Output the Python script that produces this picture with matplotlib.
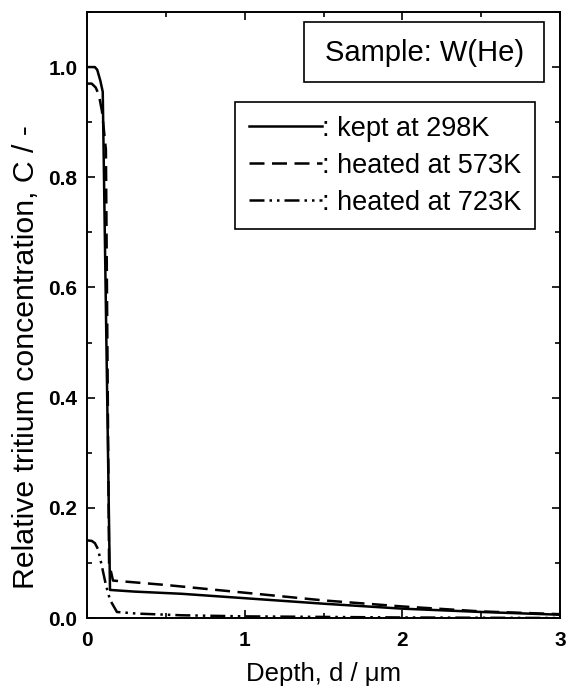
import matplotlib
matplotlib.use("Agg")
import matplotlib.pyplot as plt
from matplotlib.patches import Rectangle
from matplotlib.ticker import MultipleLocator

plt.rcParams["font.family"] = ["Liberation Sans", "DejaVu Sans"]

# depth (um) and relative concentration for each sample
depth_298 = [0.0, 0.05, 0.065, 0.085, 0.10, 0.146, 0.3, 0.6, 1.0, 1.5, 2.0, 2.5, 3.0]
conc_298 = [1.0, 1.0, 0.995, 0.975, 0.955, 0.051, 0.048, 0.044, 0.036, 0.026, 0.017, 0.011, 0.006]

depth_573 = [0.0, 0.03, 0.055, 0.075, 0.095, 0.12, 0.14, 0.165, 0.5, 1.0, 1.5, 2.0, 2.5, 3.0]
conc_573 = [0.97, 0.97, 0.963, 0.95, 0.92, 0.85, 0.10, 0.068, 0.060, 0.046, 0.032, 0.021, 0.012, 0.007]

depth_723 = [0.0, 0.03, 0.05, 0.07, 0.09, 0.12, 0.146, 0.19, 0.32, 0.6, 1.0, 1.5, 2.0, 3.0]
conc_723 = [0.141, 0.14, 0.136, 0.125, 0.10, 0.06, 0.033, 0.011, 0.008, 0.005, 0.003, 0.002, 0.001, 0.0]

labels = [": kept at 298K", ": heated at 573K", ": heated at 723K"]

fig = plt.figure(figsize=(5.67, 6.88), dpi=100)
ax = fig.add_axes([0.1534, 0.1017, 0.8343, 0.8809])

ax.plot(depth_298, conc_298, color="black", lw=1.8, ls="-", label=labels[0])
ax.plot(depth_573, conc_573, color="black", lw=1.8, ls=(0, (6, 3)), label=labels[1])
ax.plot(depth_723, conc_723, color="black", lw=1.8, ls=(0, (6, 2, 1, 2, 1, 2)), label=labels[2])

ax.set_xlim(0, 3)
ax.set_ylim(0, 1.1)
ax.xaxis.set_minor_locator(MultipleLocator(0.5))
ax.yaxis.set_minor_locator(MultipleLocator(0.1))
ax.tick_params(which="both", direction="in", top=True, right=True, width=1.2)
ax.tick_params(which="major", length=6, labelsize=15)
ax.tick_params(which="minor", length=3.5)
ax.set_yticks([0, 0.2, 0.4, 0.6, 0.8, 1.0])
ax.set_yticklabels(["0.0", "0.2", "0.4", "0.6", "0.8", "1.0"], fontweight="bold")
ax.set_xticks([0, 1, 2, 3])
ax.set_xticklabels(["0", "1", "2", "3"], fontweight="bold")
ax.tick_params(axis="x", pad=9)
ax.tick_params(axis="y", pad=7)
for s in ax.spines.values():
    s.set_linewidth(1.4)

ax.set_xlabel("Depth, d / \u03bcm", fontsize=18.5)
ax.xaxis.set_label_coords(0.5, -0.073)
ax.set_ylabel("Relative tritium concentration, C / -", fontsize=21.8)
ax.yaxis.set_label_coords(-0.100, 0.43)

leg = ax.legend(loc="upper right", bbox_to_anchor=(0.947, 0.8515), borderaxespad=0,
                fontsize=19.5, handlelength=2.7, handletextpad=0.0, fancybox=False,
                edgecolor="black", framealpha=1, borderpad=0.5, labelspacing=0.41)
leg.get_frame().set_linewidth(1.2)

ax.add_patch(Rectangle((0.459, 0.8845), 0.507, 0.099, transform=ax.transAxes,
                       fc="white", ec="black", lw=1.2, zorder=5))
ax.text(0.7146, 0.932, "Sample: W(He)", transform=ax.transAxes, fontsize=21,
        ha="center", va="center", zorder=6)

fig.savefig("out.png", dpi=100)
